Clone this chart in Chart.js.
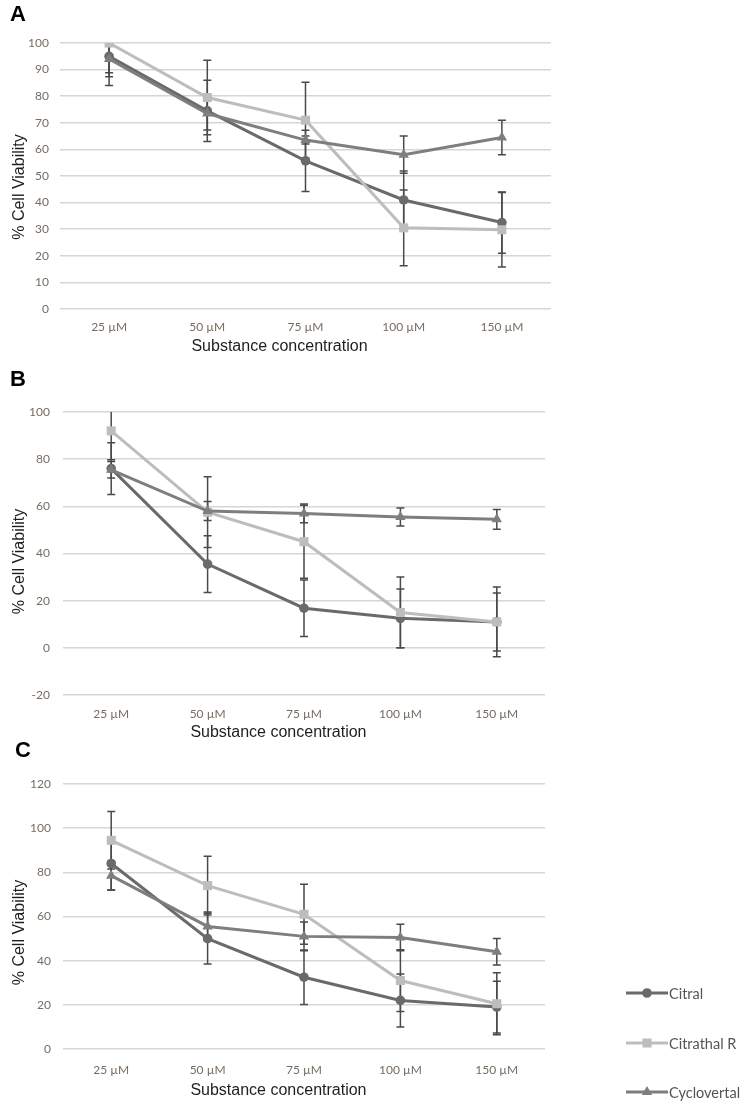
<!DOCTYPE html>
<html>
<head>
<meta charset="utf-8">
<script src="https://cdn.jsdelivr.net/npm/chart.js@4.4.1/dist/chart.umd.min.js"></script>
<style>
  html, body { margin: 0; padding: 0; background: #fff; }
  #page { position: relative; width: 750px; height: 1110px; overflow: hidden; }
  .panel { position: absolute; left: 0; width: 750px; }
  .letter { position: absolute; font: bold 22px "Liberation Sans", Arial, sans-serif; line-height: 1; color: #000; }
  .leg-item { position: absolute; left: 625px; height: 20px; display: flex; align-items: center; }
  .leg-item span { font: 14.5px Lato, sans-serif; color: #555; margin-left: 0; white-space: nowrap; }
</style>
</head>
<body>
<div id="page">
  <div class="panel" style="top:0;height:360px"><canvas id="chartA" width="750" height="360"></canvas></div>
  <div class="panel" style="top:360px;height:390px"><canvas id="chartB" width="750" height="390"></canvas></div>
  <div class="panel" style="top:740px;height:370px"><canvas id="chartC" width="750" height="370"></canvas></div>
  <div class="letter" style="left:10px;top:3px">A</div>
  <div class="letter" style="left:10px;top:368px">B</div>
  <div class="letter" style="left:15px;top:739px">C</div>
  <div id="legend"></div>
</div>
<script>
// --- data ---
const categories = ['25 µM', '50 µM', '75 µM', '100 µM', '150 µM'];
const seriesNames = ['Citral', 'Citrathal R', 'Cyclovertal'];

const citralA = [95, 74.5, 55.7, 41, 32.5];
const citralErrA = [7.7, 11.5, 11.5, 10.9, 11.5];
const citrathalA = [100, 79.5, 71, 30.5, 29.8];
const citrathalErrA = [16, 14, 14.2, 14.2, 14];
const cycloA = [94, 73.5, 63.5, 58, 64.5];
const cycloErrA = [5.2, 6.2, 1.5, 7, 6.5];

const citralB = [76, 35.5, 16.8, 12.5, 11];
const citralErrB = [11, 12, 12, 12.5, 12.3];
const citrathalB = [92, 57.5, 45, 15, 11];
const citrathalErrB = [12.3, 15, 15.5, 15, 14.8];
const cycloB = [75.5, 58, 57, 55.5, 54.5];
const cycloErrB = [3.5, 4, 4, 3.8, 4.2];

const citralC = [84, 50, 32.5, 22, 19];
const citralErrC = [12, 11.5, 12.3, 12, 11.7];
const citrathalC = [94.5, 74, 61, 31, 20.5];
const citrathalErrC = [13, 13.3, 13.6, 14, 14];
const cycloC = [78.5, 55.5, 51, 50.5, 44];
const cycloErrC = [6.5, 6.5, 6.5, 6, 6];

const ticksA = { min: 0, max: 100, step: 10 };
const ticksB = { min: -20, max: 100, step: 20 };
const ticksC = { min: 0, max: 120, step: 20 };

// --- styles ---
const styles = [
  { color: '#6a6a6a', pointStyle: 'circle', radius: 4.8, order: 2 },
  { color: '#bdbdbd', pointStyle: 'rect', radius: 6.4, order: 1 },
  { color: '#7e7e7e', pointStyle: 'triangle', radius: 6, order: 0 }
];

Chart.defaults.font.family = 'Lato, sans-serif';
Chart.defaults.animation = false;

const errorBars = {
  id: 'errorBars',
  beforeDatasetsDraw(chart) {
    const { ctx, chartArea: a, scales: { x, y } } = chart;
    ctx.save();
    ctx.beginPath();
    ctx.rect(a.left, a.top, a.width, a.height);
    ctx.clip();
    ctx.strokeStyle = '#4a4a4a';
    ctx.lineWidth = 1.5;
    chart.data.datasets.forEach(ds => {
      ds.data.forEach((v, j) => {
        const e = ds.errors[j];
        const px = x.getPixelForValue(j);
        const hi = y.getPixelForValue(v + e);
        const lo = y.getPixelForValue(v - e);
        ctx.beginPath();
        ctx.moveTo(px, hi); ctx.lineTo(px, lo);
        ctx.moveTo(px - 4, hi); ctx.lineTo(px + 4, hi);
        ctx.moveTo(px - 4, lo); ctx.lineTo(px + 4, lo);
        ctx.stroke();
      });
    });
    ctx.restore();
  }
};

const axisTitles = {
  id: 'axisTitles',
  afterDraw(chart, args, opts) {
    const { ctx, chartArea: a } = chart;
    ctx.save();
    ctx.fillStyle = '#1e1e1e';
    ctx.font = '16px "Liberation Sans", Arial, sans-serif';
    ctx.textAlign = 'center';
    ctx.textBaseline = 'middle';
    ctx.fillText('Substance concentration', a.left + a.width * 0.447, a.bottom + opts.xGap);
    ctx.translate(20, (a.top + a.bottom) / 2 + opts.yShift);
    ctx.rotate(-Math.PI / 2);
    ctx.fillText('% Cell Viability', 0, 0);
    ctx.restore();
  }
};

function makeDatasets(values, errors) {
  return values.map((vals, i) => ({
    label: seriesNames[i],
    data: vals,
    errors: errors[i],
    borderColor: styles[i].color,
    backgroundColor: styles[i].color,
    borderWidth: 3,
    pointStyle: styles[i].pointStyle,
    pointRadius: styles[i].radius,
    pointBorderWidth: 0,
    order: styles[i].order,
    clip: 0,
    tension: 0
  }));
}

function makeChart(id, values, errors, t, lay) {
  return new Chart(document.getElementById(id), {
    type: 'line',
    data: { labels: categories, datasets: makeDatasets(values, errors) },
    plugins: [errorBars, axisTitles],
    options: {
      responsive: false,
      layout: { padding: { top: lay.top, right: lay.right, bottom: 0, left: 0 } },
      plugins: {
        legend: { display: false },
        tooltip: { enabled: false },
        axisTitles: { xGap: lay.xGap, yShift: lay.yShift }
      },
      scales: {
        x: {
          offset: true,
          grid: { display: false, drawTicks: false },
          border: { display: false },
          ticks: { color: '#766c61', font: { size: 12 }, padding: lay.xPad, maxRotation: 0 },
          afterFit: s => { s.height = lay.xHeight; }
        },
        y: {
          min: t.min, max: t.max,
          grid: { color: '#d6d6d6', lineWidth: 1.5, drawTicks: false },
          border: { display: false },
          ticks: { stepSize: t.step, color: '#766c61', font: { size: 12 }, padding: lay.yPad },
          afterFit: s => { s.width = lay.yWidth; }
        }
      }
    }
  });
}

makeChart('chartA', [citralA, citrathalA, cycloA], [citralErrA, citrathalErrA, cycloErrA], ticksA,
  { top: 43, right: 199, yWidth: 60, xHeight: 51, xPad: 11, yPad: 11, xGap: 38, yShift: 11 });
makeChart('chartB', [citralB, citrathalB, cycloB], [citralErrB, citrathalErrB, cycloErrB], ticksB,
  { top: 52, right: 205, yWidth: 63, xHeight: 55, xPad: 12, yPad: 13, xGap: 38, yShift: 8 });
makeChart('chartC', [citralC, citrathalC, cycloC], [citralErrC, citrathalErrC, cycloErrC], ticksC,
  { top: 44, right: 205, yWidth: 63, xHeight: 61, xPad: 14, yPad: 12, xGap: 42, yShift: 16 });

// legend (only shown beside panel C)
const legend = document.getElementById('legend');
const legendRows = [993, 1043, 1092];
seriesNames.forEach((name, i) => {
  const item = document.createElement('div');
  item.className = 'leg-item';
  item.style.top = (legendRows[i] - 10) + 'px';
  const c = document.createElement('canvas');
  c.width = 44; c.height = 20;
  const g = c.getContext('2d');
  g.strokeStyle = styles[i].color;
  g.fillStyle = styles[i].color;
  g.lineWidth = 3;
  g.beginPath(); g.moveTo(1, 10); g.lineTo(43, 10); g.stroke();
  if (Chart.helpers && Chart.helpers.drawPoint) {
    Chart.helpers.drawPoint(g, { pointStyle: styles[i].pointStyle, radius: styles[i].radius, rotation: 0, borderWidth: 0 }, 22, 10);
  }
  const s = document.createElement('span');
  s.textContent = name;
  item.appendChild(c);
  item.appendChild(s);
  legend.appendChild(item);
});
</script>
</body>
</html>
